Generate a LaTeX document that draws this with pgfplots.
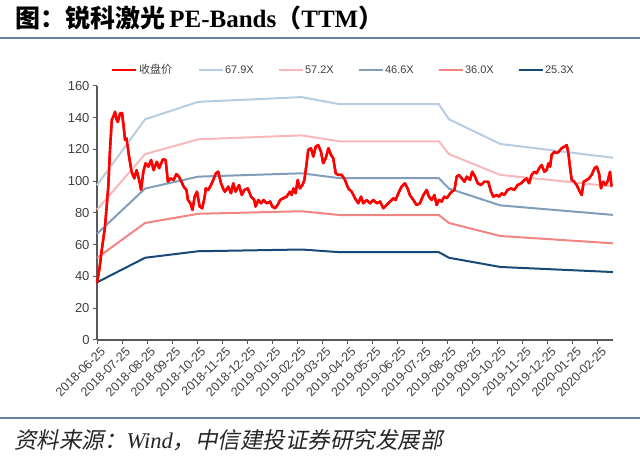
\documentclass[border=0pt]{standalone}
\usepackage{pgfplots}
\pgfplotsset{compat=1.18}
\usepackage{pgfplotstable}
\usepackage{fontspec}
\setmainfont{Liberation Sans}
\newfontfamily\cjk{Noto Sans CJK SC}
\newfontfamily\cjkslant{Noto Sans CJK SC}[FakeSlant=0.2]
\newfontfamily\tms{Liberation Serif}
\definecolor{c679}{RGB}{184,204,224}
\definecolor{c572}{RGB}{248,184,186}
\definecolor{c466}{RGB}{128,158,186}
\definecolor{c360}{RGB}{242,132,130}
\definecolor{c253}{RGB}{24,72,120}
\definecolor{sepc}{RGB}{100,130,160}
\definecolor{axc}{RGB}{89,89,89}
\definecolor{txc}{RGB}{64,64,64}

\pgfplotstableread{
m v
0 36
0.1 45
0.19 56.7
0.32 71.4
0.45 96.6
0.52 120
0.59 138.6
0.66 141
0.72 143.8
0.78 139
0.83 137.3
0.92 142.7
1.0 143
1.06 135
1.12 126
1.18 127
1.28 115.5
1.38 106
1.49 101.8
1.58 107
1.68 101
1.76 94.5
1.85 106
1.94 111.3
2.05 109.2
2.16 113.4
2.26 107
2.39 112.3
2.48 108.2
2.63 113.8
2.74 113.4
2.83 99.7
2.93 101.8
3.06 100.8
3.17 104.5
3.27 102.9
3.37 99.7
3.46 96.6
3.57 94.5
3.63 88.2
3.73 86.1
3.81 81.9
3.90 90.3
3.99 93.4
4.1 84
4.2 83
4.3 90.3
4.34 95.5
4.44 94.5
4.55 97.6
4.64 100.8
4.74 104.9
4.84 106
4.95 98.7
5.06 94.5
5.11 93.4
5.24 96.6
5.35 92.4
5.44 98.7
5.53 93.4
5.67 97.6
5.78 91.3
5.88 94.5
6.02 95.5
6.15 90.3
6.28 88.2
6.33 84
6.44 88.2
6.55 86.1
6.65 88.2
6.77 86.1
6.91 87.2
7.0 84
7.11 83
7.21 85
7.31 88.2
7.44 89.3
7.57 90.3
7.7 93.4
7.77 91.3
7.84 95.5
7.93 92.4
8.01 100.8
8.1 95.5
8.2 97.6
8.28 100.8
8.37 111.3
8.43 119.7
8.54 120.8
8.64 115.5
8.73 121.8
8.83 122.8
8.94 118.7
9.03 111.3
9.13 114.5
9.24 120.8
9.34 116.6
9.43 114.5
9.53 105
9.63 104
9.77 104
9.9 100.8
10.03 95.5
10.17 93.4
10.3 89.3
10.43 86.1
10.54 90.3
10.63 86.1
10.77 88.2
10.9 86.1
11.03 88.2
11.17 86.1
11.3 87.2
11.43 83
11.56 85
11.7 87.2
11.83 89.3
11.92 88.2
12.03 92.4
12.16 96.6
12.29 98.7
12.4 95.5
12.49 91.3
12.63 88.2
12.76 85
12.89 86.1
13.03 91.3
13.16 94.5
13.25 90.3
13.36 88.2
13.47 91.3
13.56 85
13.65 88.2
13.76 87.2
13.86 90.3
13.96 89.3
14.05 91.3
14.16 93.4
14.27 94.5
14.36 102.9
14.45 104
14.56 101.8
14.67 99.7
14.76 102.9
14.89 100.8
14.98 106
15.09 102.9
15.2 98.7
15.33 97.6
15.46 99.7
15.62 99.7
15.73 93.4
15.82 90.3
15.95 91.3
16.05 90.3
16.15 92.4
16.26 91.3
16.39 94.5
16.53 95.5
16.66 94.5
16.79 97.6
16.93 98.7
17.06 100.8
17.15 101.8
17.25 98.7
17.35 104
17.46 106
17.55 105
17.65 108.2
17.75 110.2
17.86 106
17.95 107
18.02 111.3
18.09 109.2
18.15 116.6
18.26 118.7
18.35 117.6
18.44 118.7
18.55 120.8
18.66 121.8
18.75 122.8
18.82 117.6
18.88 109.2
18.95 100.8
19.05 99.7
19.15 97.6
19.24 94.5
19.35 91.3
19.43 99.7
19.55 100.8
19.64 101.8
19.75 104
19.86 108.2
19.95 109.2
20.04 105
20.12 95.5
20.21 99.7
20.3 97.6
20.38 99.7
20.48 106
20.54 96.6
}\price

\pgfplotstableread{
m b679 b572 b466 b360 b253
0     97.5  82.1  66.9  51.7  36.3
1.92  139.0 117.1 95.4  73.7  51.8
4.04  150.0 126.4 102.9 79.5  55.9
8.17  153.0 128.9 105.0 81.1  57.0
9.70  148.5 125.1 101.9 78.7  55.3
13.65 148.5 125.1 101.9 78.7  55.3
14.05 139.0 117.1 95.4  73.7  51.8
16.10 123.5 104.0 84.8  65.5  46.0
20.60 114.8 96.7  78.8  60.9  42.8
}\bands

\begin{document}
\begin{tikzpicture}[x=1bp,y=1bp]
\path[use as bounding box] (0,0) rectangle (640,469);
\node[anchor=west,inner sep=0pt] at (15,451) {\fontsize{25bp}{29bp}\selectfont\bfseries{\cjk 图：锐科激光}\,{\tms PE-Bands}{\cjk （}{\tms TTM}{\cjk ）}};
\draw[sepc,line width=2bp] (0,431) -- (640,431);
\draw[sepc,line width=2bp] (0,51) -- (640,51);
\node[anchor=west,inner sep=0pt,text=black!85] at (14,29) {\fontsize{22.5bp}{26bp}\selectfont{\cjkslant 资料来源：}{\tms\itshape Wind}{\cjkslant ，中信建投证券研究发展部}};
\begin{axis}[
  at={(97bp,129bp)}, anchor=south west,
  scale only axis, width=516bp, height=254bp,
  xmin=0, xmax=20.6, ymin=0, ymax=160,
  axis x line=bottom, axis y line=left,
  axis line style={-, draw=axc, line width=1.4bp},
  tick style={draw=axc, line width=1bp},
  tick align=outside, major tick length=4bp,
  /pgf/number format/assume math mode=true,
  xtick={0,...,20},
  xticklabels={2018-06-25,2018-07-25,2018-08-25,2018-09-25,2018-10-25,2018-11-25,2018-12-25,2019-01-25,2019-02-25,2019-03-25,2019-04-25,2019-05-25,2019-06-25,2019-07-25,2019-08-25,2019-09-25,2019-10-25,2019-11-25,2019-12-25,2020-01-25,2020-02-25},
  ytick={0,20,...,160},
  tick label style={font=\fontsize{12.5bp}{14bp}\selectfont, text=txc},
  yticklabel style={font=\fontsize{13bp}{15bp}\selectfont},
  xticklabel style={rotate=45, anchor=east, xshift=4bp, yshift=-8bp},
  legend columns=6,
  legend style={at={(0.027,1.063)}, anchor=west, draw=none, fill=none,
    font=\fontsize{11bp}{13bp}\selectfont, text=txc,
    inner sep=0pt, nodes={inner sep=1.5bp},
    /tikz/every even column/.append style={column sep=16bp}},
  legend image code/.code={\draw[#1] (0bp,0bp) -- (24bp,0bp);},
  clip=false,
]
\addplot[red, line width=2.4bp, line join=round] table[x=m,y=v] {\price};
\addlegendentry{\makebox[41bp][l]{\cjk 收盘价}}
\addplot[c679, line width=2bp] table[x=m,y=b679] {\bands};
\addlegendentry{\makebox[35bp][l]{67.9X}}
\addplot[c572, line width=2bp] table[x=m,y=b572] {\bands};
\addlegendentry{\makebox[35bp][l]{57.2X}}
\addplot[c466, line width=2bp] table[x=m,y=b466] {\bands};
\addlegendentry{\makebox[35bp][l]{46.6X}}
\addplot[c360, line width=2bp] table[x=m,y=b360] {\bands};
\addlegendentry{\makebox[35bp][l]{36.0X}}
\addplot[c253, line width=2bp] table[x=m,y=b253] {\bands};
\addlegendentry{\makebox[35bp][l]{25.3X}}
\addplot[red, line width=2.4bp, line join=round, forget plot] table[x=m,y=v] {\price};
\end{axis}
\end{tikzpicture}
\end{document}
